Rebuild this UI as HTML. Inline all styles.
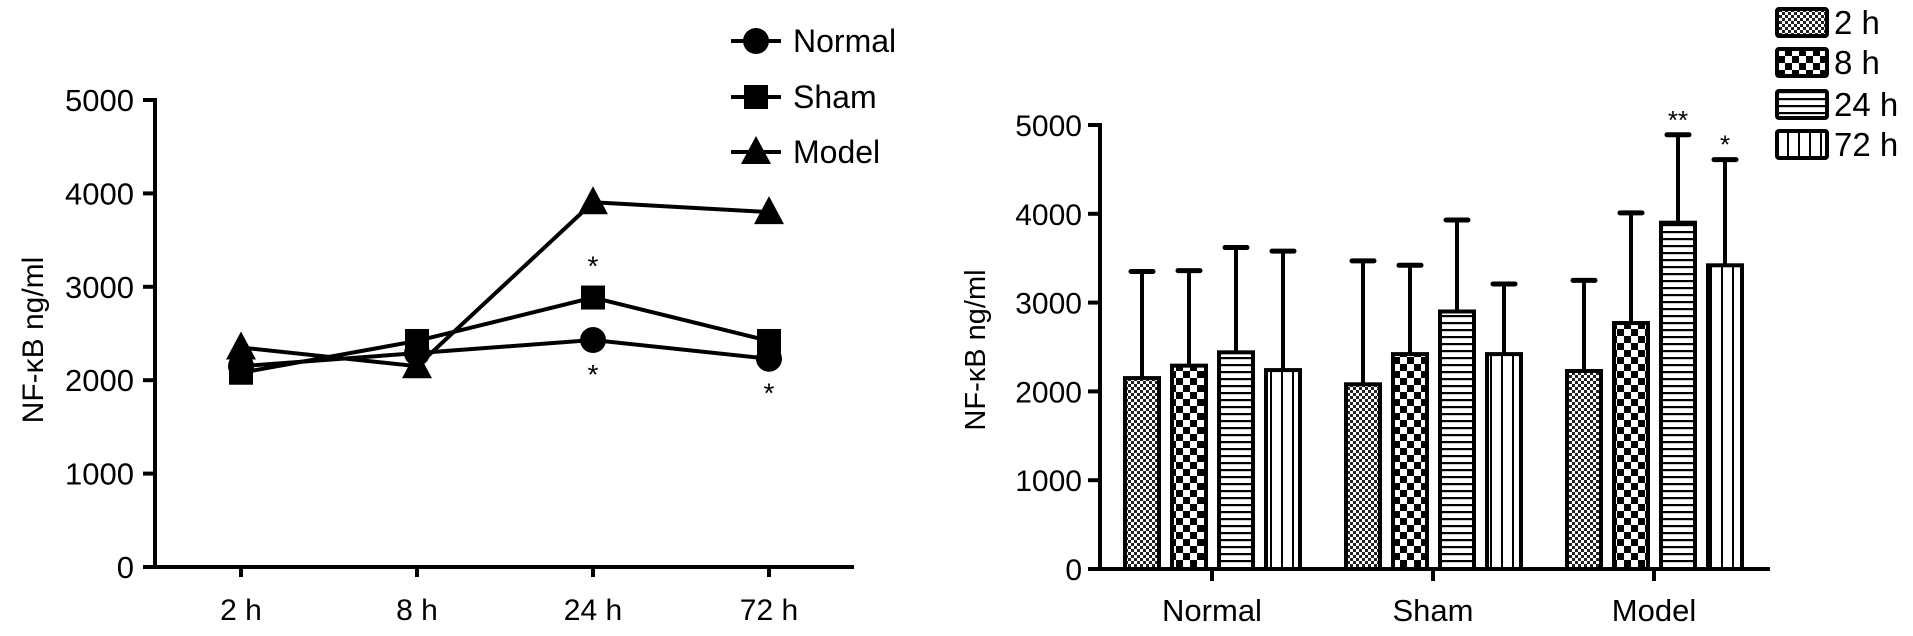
<!DOCTYPE html>
<html><head><meta charset="utf-8"><style>
html,body{margin:0;padding:0;background:#fff;}
svg{display:block;font-family:"Liberation Sans",Arial,sans-serif;}
</style></head><body>
<svg id="fig" width="1913" height="636" viewBox="0 0 1913 636" xmlns="http://www.w3.org/2000/svg">
<defs>
<pattern id="p2" width="6" height="6" patternUnits="userSpaceOnUse"><rect width="6" height="6" fill="#fff"/><rect width="3" height="3" fill="#222"/><rect x="3" y="3" width="3" height="3" fill="#222"/></pattern>
<pattern id="p8" width="14" height="14" patternUnits="userSpaceOnUse"><rect width="14" height="14" fill="#fff"/><rect width="7" height="7" fill="#000"/><rect x="7" y="7" width="7" height="7" fill="#000"/></pattern>
<pattern id="p24" width="8" height="7" patternUnits="userSpaceOnUse"><rect width="8" height="7" fill="#fff"/><rect y="0" width="8" height="2.2" fill="#000"/></pattern>
<pattern id="p72" width="11" height="8" patternUnits="userSpaceOnUse"><rect width="11" height="8" fill="#fff"/><rect x="5" width="2" height="8" fill="#000"/></pattern>
</defs>
<g id="left"></g>
<g id="right"></g>
</svg>
<script>
const NS="http://www.w3.org/2000/svg";
// ---- left chart data ----
const timeCats=["2 h","8 h","24 h","72 h"];
const normalVals=[2150,2290,2430,2230];
const shamVals=[2080,2420,2885,2420];
const modelVals=[2350,2150,3905,3800];
const leftTicks=[0,1000,2000,3000,4000,5000];
// ---- right chart data ----
const groupCats=["Normal","Sham","Model"];
const h2Vals=[2150,2080,2230];
const h8Vals=[2290,2420,2770];
const h24Vals=[2440,2900,3900];
const h72Vals=[2240,2420,3420];
const h2Err=[3350,3470,3250];
const h8Err=[3360,3420,4010];
const h24Err=[3620,3930,4890];
const h72Err=[3580,3210,4610];
const rightTicks=[0,1000,2000,3000,4000,5000];

function el(parent,tag,attrs,text){const e=document.createElementNS(NS,tag);for(const k in attrs)e.setAttribute(k,attrs[k]);if(text!==undefined)e.textContent=text;parent.appendChild(e);return e;}

// LEFT
const L=document.getElementById('left');
const lx0=155,ly0=567,lyTop=100;
const ly=v=>ly0-(v/5000)*(ly0-lyTop);
const lx=i=>241+i*176;
let a=el(L,'line',{x1:lx0,y1:lyTop-2,x2:lx0,y2:ly0+2,stroke:'#000','stroke-width':4});

a=el(L,'line',{x1:lx0-2,y1:ly0,x2:854,y2:ly0,stroke:'#000','stroke-width':4});

leftTicks.forEach(v=>{el(L,'line',{x1:lx0-12,y1:ly(v),x2:lx0,y2:ly(v),stroke:'#000','stroke-width':4});
 const t=el(L,'text',{x:lx0-21,y:ly(v)+11,'text-anchor':'end','font-size':31},String(v));
 });
timeCats.forEach((c,i)=>{el(L,'line',{x1:lx(i),y1:ly0,x2:lx(i),y2:ly0+10,stroke:'#000','stroke-width':4});
 const t=el(L,'text',{x:lx(i),y:620,'text-anchor':'middle','font-size':30},c);
 });
let yt=el(L,'text',{x:0,y:0,transform:'translate(43,340) rotate(-90)','text-anchor':'middle','font-size':30},'NF-κB ng/ml');

function marker(g,type,x,y){
 if(type==='circle')return el(g,'circle',{cx:x,cy:y,r:13,fill:'#000'});
 if(type==='square')return el(g,'rect',{x:x-12,y:y-12,width:24,height:24,fill:'#000'});
 return el(g,'polygon',{points:`${x},${y-16} ${x+15},${y+12} ${x-15},${y+12}`,fill:'#000'});
}
const series=[["normal",normalVals,'circle'],["sham",shamVals,'square'],["model",modelVals,'triangle']];
series.forEach(([n,vals,m])=>{
 const g=el(L,'g',{});
 const p=el(g,'polyline',{points:vals.map((v,i)=>lx(i)+','+ly(v)).join(' '),fill:'none',stroke:'#000','stroke-width':4});
 
 vals.forEach((v,i)=>{const mk=marker(g,m,lx(i),ly(v));});
});
[[2,ly(shamVals[2])-22],[2,ly(normalVals[2])+44],[3,ly(normalVals[3])+44]].forEach(([i,y])=>{
 const s=el(L,'text',{x:lx(i),y:y,'text-anchor':'middle','font-size':28},'*');});
[['Normal','circle',41],['Sham','square',97],['Model','triangle',152]].forEach(([n,m,y])=>{
 const g=el(L,'g',{});
 el(g,'line',{x1:731,y1:y,x2:781,y2:y,stroke:'#000','stroke-width':4});marker(g,m,756,y);
 el(g,'text',{x:793,y:y+11,'font-size':32},n);});

// RIGHT
const R=document.getElementById('right');
const rx0=1100,ry0=569,ryTop=125;
const ry=v=>ry0-(v/5000)*(ry0-ryTop);
const gx=i=>1212+i*221;
a=el(R,'line',{x1:rx0,y1:ryTop-2,x2:rx0,y2:ry0+2,stroke:'#000','stroke-width':4});

a=el(R,'line',{x1:rx0-2,y1:ry0,x2:1770,y2:ry0,stroke:'#000','stroke-width':4});

rightTicks.forEach(v=>{el(R,'line',{x1:rx0-12,y1:ry(v),x2:rx0,y2:ry(v),stroke:'#000','stroke-width':4});
 const t=el(R,'text',{x:rx0-18,y:ry(v)+11,'text-anchor':'end','font-size':30},String(v));
 });
groupCats.forEach((c,i)=>{el(R,'line',{x1:gx(i),y1:ry0,x2:gx(i),y2:ry0+12,stroke:'#000','stroke-width':4});
 const t=el(R,'text',{x:gx(i),y:621,'text-anchor':'middle','font-size':31},c);
 });
yt=el(R,'text',{x:0,y:0,transform:'translate(985,350) rotate(-90)','text-anchor':'middle','font-size':29},'NF-κB ng/ml');

const barSets=[['2h',h2Vals,h2Err,'p2'],['8h',h8Vals,h8Err,'p8'],['24h',h24Vals,h24Err,'p24'],['72h',h72Vals,h72Err,'p72']];
barSets.forEach(([n,vals,errs,pat],k)=>{
 vals.forEach((v,i)=>{
  const x=gx(i)-87+k*47,w=34,cx=x+w/2;
  const e=el(R,'line',{x1:cx,y1:ry(errs[i]),x2:cx,y2:ry(v),stroke:'#000','stroke-width':4});
  
  el(R,'line',{x1:cx-11,y1:ry(errs[i]),x2:cx+11,y2:ry(errs[i]),stroke:'#000','stroke-width':5,'stroke-linecap':'round'});
  const b=el(R,'rect',{x:x,y:ry(v),width:w,height:ry0-ry(v),fill:`url(#${pat})`,stroke:'#000','stroke-width':4});
  
 });});
[['**',2,h24Err],['*',3,h72Err]].forEach(([s,k,errs])=>{
 const t=el(R,'text',{x:gx(2)-87+k*47+17,y:ry(errs[2])-6,'text-anchor':'middle','font-size':26},s);
 });
[['2 h','p2',22],['8 h','p8',62],['24 h','p24',104],['72 h','p72',144]].forEach(([n,p,y])=>{
 const g=el(R,'g',{});
 el(g,'rect',{x:1777,y:y-13,width:50,height:27,fill:`url(#${p})`,stroke:'#000','stroke-width':4,rx:2});
 el(g,'text',{x:1834,y:y+12,'font-size':33},n);});
</script>
</body></html>
